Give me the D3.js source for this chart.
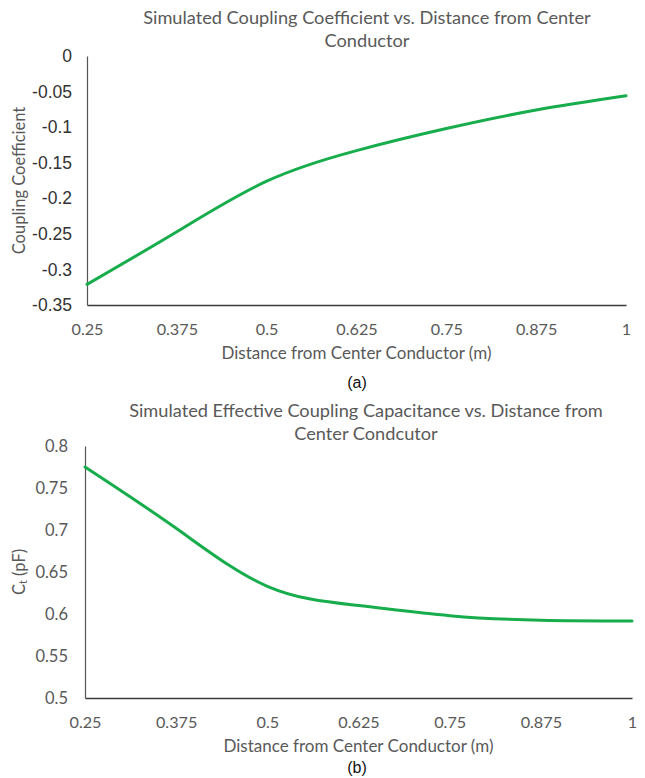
<!DOCTYPE html>
<html>
<head>
<meta charset="utf-8">
<script src="https://cdn.jsdelivr.net/npm/d3@7"></script>
<style>
    body { margin: 0; background: #fff; }
    svg { display: block; }
</style>
</head>
<body>
<svg id="chart" width="645" height="778"></svg>
<script>
// distances (m), shared by both panels
const distance = [0.25, 0.375, 0.5, 0.625, 0.75, 0.875, 1];
// panel (a): simulated coupling coefficient
const coupling = [-0.321, -0.247, -0.176, -0.133, -0.102, -0.076, -0.056];
// panel (b): effective coupling capacitance (pF)
const capacitance = [0.775, 0.702, 0.633, 0.610, 0.598, 0.5925, 0.5917];

const xTicks = [0.25, 0.375, 0.5, 0.625, 0.75, 0.875, 1];
const xTickLabels = ["0.25", "0.375", "0.5", "0.625", "0.75", "0.875", "1"];
const yTicksA = [0, -0.05, -0.1, -0.15, -0.2, -0.25, -0.3, -0.35];
const yTickLabelsA = ["0", "-0.05", "-0.1", "-0.15", "-0.2", "-0.25", "-0.3", "-0.35"];
const yTicksB = [0.8, 0.75, 0.7, 0.65, 0.6, 0.55, 0.5];
const yTickLabelsB = ["0.8", "0.75", "0.7", "0.65", "0.6", "0.55", "0.5"];

const GREEN = "#17ad4c";
const TEXT = "#595959";
const CAL = "Lato, 'Open Sans', sans-serif";
const ARIAL = "'Liberation Sans', Arial, sans-serif";

const svg = d3.select("#chart");

function drawPanel(p) {
    const g = svg.append("g");
    const x = d3.scaleLinear().domain([0.25, 1]).range([p.left, p.right]);
    const y = d3.scaleLinear().domain(p.yDomain).range([p.bottom, p.top]);

    // title, two lines
    g.append("text")
     .attr("x", p.titleX)
     .attr("y", p.titleY)
     .attr("text-anchor", "middle")
     .style("font-family", CAL)
     .style("font-size", "18.2px")
     .style("fill", TEXT)
     .selectAll("tspan")
     .data(p.title)
     .join("tspan")
     .attr("x", p.titleX)
     .attr("dy", (d, i) => i == 0 ? 0 : 23)
     .text((d) => d);

    // x axis
    const xAxis = g.append("g")
                   .attr("transform", "translate(0," + p.bottom + ")")
                   .call(d3.axisBottom(x)
                           .tickValues(xTicks)
                           .tickFormat((d, i) => xTickLabels[i])
                           .tickSize(0)
                           .tickPadding(p.xPad));
    xAxis.select(".domain").style("stroke", "#3a3a3a").style("stroke-width", 1.6);
    xAxis.selectAll("text")
         .style("font-family", CAL)
         .style("font-size", "16.2px")
         .style("fill", TEXT);

    // y axis
    const yAxis = g.append("g")
                   .attr("transform", "translate(" + p.left + ",0)")
                   .call(d3.axisLeft(y)
                           .tickValues(p.yTicks)
                           .tickFormat((d, i) => p.yLabels[i])
                           .tickSize(0)
                           .tickPadding(p.yPad));
    yAxis.select(".domain").style("stroke", "#555").style("stroke-width", 1.2);
    yAxis.selectAll("text")
         .style("font-family", p.yFont)
         .style("font-size", p.yFontSize)
         .style("fill", p.yColor);

    // axis titles
    g.append("text")
     .attr("x", (p.left + p.right) / 2)
     .attr("y", p.xTitleY)
     .attr("text-anchor", "middle")
     .style("font-family", CAL)
     .style("font-size", "17px")
     .style("fill", TEXT)
     .text("Distance from Center Conductor (m)");

    const yt = g.append("text")
                .attr("transform", "translate(" + p.yTitleX + "," + (p.top + p.bottom) / 2 + ") rotate(-90)")
                .attr("text-anchor", "middle")
                .style("font-family", CAL)
                .style("font-size", "16.5px")
                .style("fill", TEXT);
    for (const part of p.yTitle) {
        yt.append("tspan")
          .attr("baseline-shift", part.sub ? "-2" : null)
          .style("font-size", part.sub ? "11px" : null)
          .text(part.t);
    }

    // curve
    const line = d3.line()
                   .x((d, i) => x(distance[i]))
                   .y((d) => y(d))
                   .curve(d3.curveNatural);
    g.append("path")
     .datum(p.values)
     .attr("d", line)
     .style("fill", "none")
     .style("stroke", GREEN)
     .style("stroke-width", 3)
     .style("stroke-linecap", "round");

    // caption
    g.append("text")
     .attr("x", 357)
     .attr("y", p.captionY)
     .attr("text-anchor", "middle")
     .style("font-family", ARIAL)
     .style("font-size", "16px")
     .style("fill", "#111")
     .text(p.caption);
}

drawPanel({
    left: 87, right: 626, top: 56, bottom: 305,
    yDomain: [-0.35, 0], yTicks: yTicksA, yLabels: yTickLabelsA,
    yFont: ARIAL, yFontSize: "17.5px", yColor: "#333", yPad: 15,
    xPad: 18, xTitleY: 359, captionY: 388,
    title: ["Simulated Coupling Coefficient vs. Distance from Center", "Conductor"],
    titleX: 367, titleY: 24,
    yTitle: [{ t: "Coupling Coefficient" }], yTitleX: 25,
    values: coupling, caption: "(a)"
});

drawPanel({
    left: 85, right: 632, top: 446, bottom: 698,
    yDomain: [0.5, 0.8], yTicks: yTicksB, yLabels: yTickLabelsB,
    yFont: CAL, yFontSize: "16.5px", yColor: TEXT, yPad: 17,
    xPad: 18, xTitleY: 752, captionY: 773,
    title: ["Simulated Effective Coupling Capacitance vs. Distance from", "Center Condcutor"],
    titleX: 366, titleY: 417,
    yTitle: [{ t: "C" }, { t: "t", sub: true }, { t: " (pF)" }], yTitleX: 25,
    values: capacitance, caption: "(b)"
});
</script>
</body>
</html>
